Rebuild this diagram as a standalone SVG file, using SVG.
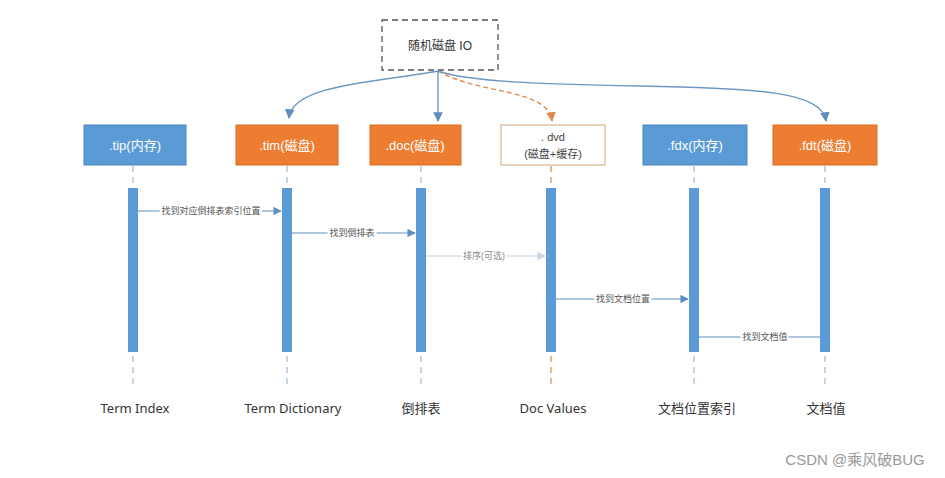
<svg xmlns="http://www.w3.org/2000/svg" width="945" height="478" viewBox="0 0 945 478">
<defs>
<style>
.nb{fill:#5B9BD5;stroke:#4a86bf;stroke-width:1}
.no{fill:#ED7D31;stroke:#d96d24;stroke-width:1}
.nt{font-family:"Liberation Sans","Noto Sans CJK SC",sans-serif;font-size:13px;fill:#fff;text-anchor:middle}
.bar{fill:#5B9BD5}
.life{stroke:#9bb7d4;stroke-width:1.2;stroke-dasharray:6,5}
.msg{stroke:#5f8fbf;stroke-width:1.2;fill:none}
.ml{font-family:"Liberation Sans","Noto Sans CJK SC",sans-serif;font-size:9px;fill:#555;text-anchor:middle;paint-order:stroke;stroke:#fff;stroke-width:4}
.lb{font-family:"Noto Sans","Noto Sans CJK SC",sans-serif;font-size:13px;fill:#333;text-anchor:middle}
.con{stroke:#6d97c2;stroke-width:1.4;fill:none}
</style>
<marker id="ab" viewBox="0 0 10 10" refX="9" refY="5" markerWidth="7" markerHeight="7" orient="auto"><path d="M0,0L10,5L0,10z" fill="#5f8fbf"/></marker>
<marker id="ag" viewBox="0 0 10 10" refX="9" refY="5" markerWidth="7" markerHeight="7" orient="auto"><path d="M0,0L10,5L0,10z" fill="#c8d3de"/></marker>
<marker id="ao" viewBox="0 0 10 10" refX="9" refY="5" markerWidth="7" markerHeight="7" orient="auto"><path d="M0,0L10,5L0,10z" fill="#E0894A"/></marker>
</defs>
<rect width="945" height="478" fill="#fff"/>

<g id="io">
<rect x="382" y="20" width="116" height="50" fill="#fff" stroke="#555" stroke-width="1.3" stroke-dasharray="6,4"/>
<text x="440" y="50" font-family="Liberation Sans,'Noto Sans CJK SC',sans-serif" font-size="12" fill="#333" text-anchor="middle">随机磁盘 IO</text>
</g>

<g id="connectors">
<path class="con" d="M438,71 C 380,82 292,84 289,118" marker-end="url(#ab)"/>
<path class="con" d="M438,71 L438,121" marker-end="url(#ab)"/>
<path d="M438,71 C 480,95 548,88 552,121" fill="none" stroke="#E0894A" stroke-width="1.4" stroke-dasharray="5,3" marker-end="url(#ao)"/>
<path class="con" d="M438,71 C 470,82 540,84 640,86 C 760,88 822,92 826,121" marker-end="url(#ab)"/>

<line class="msg" x1="138" y1="211" x2="281" y2="211" marker-end="url(#ab)"/>
<line class="msg" x1="292" y1="233" x2="415" y2="233" marker-end="url(#ab)"/>
<line x1="426" y1="256" x2="545" y2="256" stroke="#c8d3de" stroke-width="1.2" marker-end="url(#ag)"/>
<line class="msg" x1="556" y1="299" x2="688" y2="299" marker-end="url(#ab)"/>
<line class="msg" x1="820" y1="337" x2="699" y2="337"/>
<text class="ml" x="211" y="214">找到对应倒排表索引位置</text>
<text class="ml" x="352" y="236">找到倒排表</text>
<text class="ml" x="484" y="259" fill="#999" style="fill:#8a8a8a">排序(可选)</text>
<text class="ml" x="623" y="302">找到文档位置</text>
<text class="ml" x="765" y="340">找到文档值</text>
</g>

<g id="tip">
<rect class="nb" x="84" y="125" width="102" height="40"/>
<text class="nt" x="135" y="150">.tip(内存)</text>
<line class="life" x1="133" y1="166" x2="133" y2="188"/>
<rect class="bar" x="128" y="188" width="10" height="164"/>
<line class="life" x1="133" y1="356" x2="133" y2="385"/>
<text class="lb" x="135" y="413">Term Index</text>
</g>

<g id="tim">
<rect class="no" x="236" y="125" width="102" height="40"/>
<text class="nt" x="287" y="150">.tim(磁盘)</text>
<line class="life" x1="287" y1="166" x2="287" y2="188"/>
<rect class="bar" x="282" y="188" width="10" height="164"/>
<line class="life" x1="287" y1="356" x2="287" y2="385"/>
<text class="lb" x="293" y="413">Term Dictionary</text>
</g>

<g id="doc">
<rect class="no" x="370" y="125" width="91" height="40"/>
<text class="nt" x="415" y="150">.doc(磁盘)</text>
<line class="life" x1="421" y1="166" x2="421" y2="188"/>
<rect class="bar" x="416" y="188" width="10" height="164"/>
<line class="life" x1="421" y1="356" x2="421" y2="385"/>
<text class="lb" x="421" y="413">倒排表</text>
</g>

<g id="dvd">
<rect x="501" y="125" width="104" height="40" fill="#fff" stroke="#d9b48f" stroke-width="1.2"/>
<text x="553" y="141" font-family="Liberation Sans,'Noto Sans CJK SC',sans-serif" font-size="11" fill="#444" text-anchor="middle">. dvd</text>
<text x="553" y="158" font-family="Liberation Sans,'Noto Sans CJK SC',sans-serif" font-size="11" fill="#444" text-anchor="middle">(磁盘+缓存)</text>
<line x1="551" y1="166" x2="551" y2="188" stroke="#E0894A" stroke-width="1.2" stroke-dasharray="6,5"/>
<rect class="bar" x="546" y="188" width="10" height="164"/>
<line x1="551" y1="356" x2="551" y2="385" stroke="#E0894A" stroke-width="1.2" stroke-dasharray="6,5"/>
<text class="lb" x="553" y="413">Doc Values</text>
</g>

<g id="fdx">
<rect class="nb" x="643" y="125" width="104" height="40"/>
<text class="nt" x="695" y="150">.fdx(内存)</text>
<line class="life" x1="694" y1="166" x2="694" y2="188"/>
<rect class="bar" x="689" y="188" width="10" height="164"/>
<line class="life" x1="694" y1="356" x2="694" y2="385"/>
<text class="lb" x="697" y="413">文档位置索引</text>
</g>

<g id="fdt">
<rect class="no" x="773" y="125" width="104" height="40"/>
<text class="nt" x="825" y="150">.fdt(磁盘)</text>
<line class="life" x1="825" y1="166" x2="825" y2="188"/>
<rect class="bar" x="820" y="188" width="10" height="164"/>
<line class="life" x1="825" y1="356" x2="825" y2="385"/>
<text class="lb" x="826" y="413">文档值</text>
</g>

<text x="855" y="465" font-family="Liberation Sans,'Noto Sans CJK SC',sans-serif" font-size="15" fill="#999" text-anchor="middle">CSDN @乘风破BUG</text>
</svg>
